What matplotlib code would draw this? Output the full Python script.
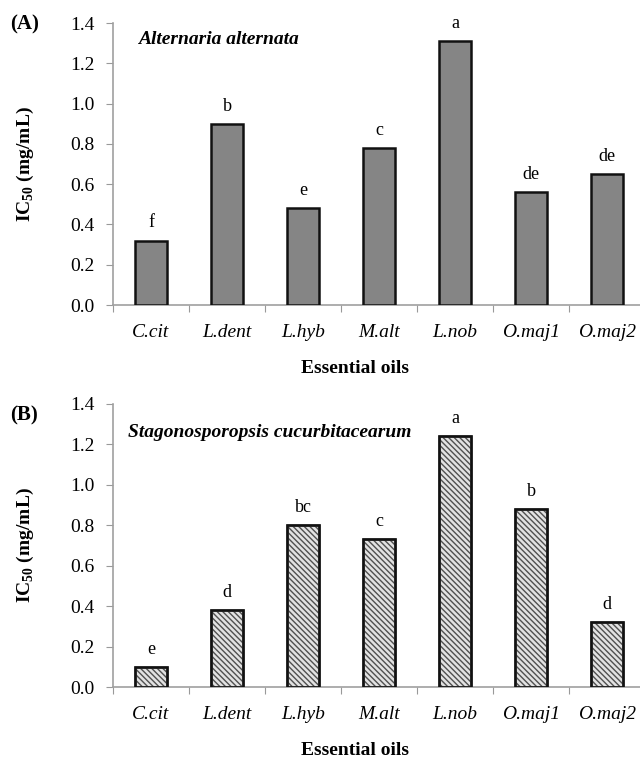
import matplotlib
matplotlib.use("Agg")
import matplotlib.pyplot as plt

plt.rcParams['font.family'] = ['Liberation Serif', 'DejaVu Serif']
plt.rcParams['hatch.linewidth'] = 1.0
plt.rcParams['mathtext.fontset'] = 'custom'
plt.rcParams['mathtext.rm'] = 'Liberation Serif'
plt.rcParams['mathtext.bf'] = 'Liberation Serif:bold'

oils = ["C.cit", "L.dent", "L.hyb", "M.alt", "L.nob", "O.maj1", "O.maj2"]
ic50_alt = [0.32, 0.90, 0.48, 0.78, 1.31, 0.56, 0.65]
letters_alt = ["f", "b", "e", "c", "a", "de", "de"]
ic50_stag = [0.10, 0.38, 0.80, 0.73, 1.24, 0.88, 0.32]
letters_stag = ["e", "d", "bc", "c", "a", "b", "d"]
yticks = [0.0, 0.2, 0.4, 0.6, 0.8, 1.0, 1.2, 1.4]

W, H = 640, 758
fig = plt.figure(figsize=(W / 100, H / 100), dpi=100)

title_x_px = {"(A)": 138 / W, "(B)": 128 / W}

def make_panel(bottom_px, top_px, vals, letters, title, tag, tag_y, title_y, style):
    left_px, right_px = 113, 645
    ax = fig.add_axes([left_px / W, 1 - bottom_px / H,
                       (right_px - left_px) / W, (bottom_px - top_px) / H])
    x = list(range(len(vals)))
    if style == "A":
        ax.bar(x, vals, width=0.41, color="#858585", edgecolor="#111111",
               linewidth=1.8, zorder=3)
    else:
        bars = ax.bar(x, vals, width=0.41, color="#e2e2e2", edgecolor="#505050",
                      hatch="\\\\\\\\\\\\", linewidth=1.8, zorder=3)
        for b in bars:
            ax.bar(b.get_x() + b.get_width() / 2, b.get_height(), width=0.41,
                   fill=False, edgecolor="#111111", linewidth=1.8, zorder=4)
    for xi, v, l in zip(x, vals, letters):
        ax.text(xi, v + 0.045, l, ha="center", va="bottom", fontsize=13)
    ax.set_xlim(-0.5, len(vals) - 0.5)
    ax.set_ylim(0, 1.4)
    ax.set_yticks(yticks)
    ax.set_yticklabels([f"{t:.1f}" for t in yticks], fontsize=14)
    ax.set_xticks([i - 0.5 for i in range(len(vals) + 1)])
    ax.set_xticklabels([])
    ax.set_xticks(x, minor=True)
    ax.set_xticklabels(oils, minor=True, fontsize=14, style="italic")
    ax.tick_params(axis="x", which="minor", length=0, pad=14)
    ax.tick_params(axis="x", which="major", length=5, color="#999999", direction="out")
    ax.tick_params(axis="y", length=5, color="#999999", direction="out", pad=8)
    for s in ["top", "right"]:
        ax.spines[s].set_visible(False)
    for s in ["left", "bottom"]:
        ax.spines[s].set_color("#a0a0a0")
        ax.spines[s].set_linewidth(1.2)
    ax.set_ylabel(r"IC$_{\mathbf{50}}$ (mg/mL)", fontsize=14, fontweight="bold")
    ax.yaxis.set_label_coords(-0.145, 0.5)
    ax.set_xlabel("Essential oils", fontsize=14, fontweight="bold")
    ax.xaxis.set_label_coords((355 - left_px) / (right_px - left_px), -0.195)
    fig.text(10 / W, 1 - tag_y / H, tag, fontsize=15, fontweight="bold", va="center")
    fig.text(title_x_px[tag], 1 - title_y / H, title,
             fontsize=14, fontweight="bold", style="italic", va="center")
    return ax

make_panel(305, 23, ic50_alt, letters_alt, "Alternaria alternata", "(A)", 24, 40, "A")
make_panel(687, 404, ic50_stag, letters_stag, "Stagonosporopsis cucurbitacearum", "(B)", 415, 432, "B")

fig.savefig("out.png", dpi=100)
